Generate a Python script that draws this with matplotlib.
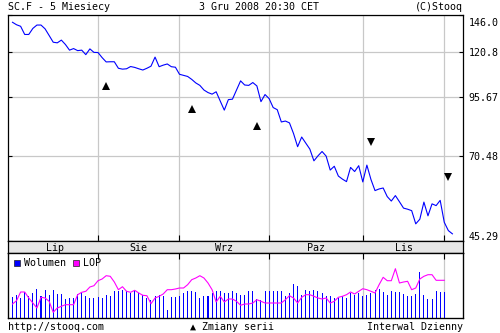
import numpy as np
import matplotlib
matplotlib.use("Agg")
import matplotlib.pyplot as plt
from matplotlib.ticker import FixedLocator, FixedFormatter, NullLocator
from matplotlib.transforms import ScaledTranslation
from matplotlib.patches import Rectangle

# ---- data -------------------------------------------------------------
close = [140.6, 138.8, 137.7, 132.0, 132.0, 136.2, 138.6, 138.6, 135.9, 131.3,
         126.8, 126.4, 128.2, 125.3, 121.7, 122.7, 121.4, 121.7, 118.9, 122.5,
         120.3, 120.2, 117.1, 114.5, 114.6, 114.6, 110.8, 110.3, 110.5, 111.8,
         111.3, 110.5, 109.8, 110.8, 112.0, 117.4, 111.7, 112.6, 113.3, 111.7,
         111.4, 107.4, 106.8, 106.2, 104.6, 102.7, 101.4, 99.0, 97.7, 96.9,
         98.1, 93.5, 89.2, 94.2, 94.4, 99.0, 103.8, 101.6, 101.4, 102.9,
         101.1, 93.2, 96.7, 94.7, 90.4, 89.4, 83.9, 84.3, 83.5, 79.0,
         73.8, 77.6, 75.2, 72.9, 68.6, 70.4, 72.0, 70.3, 65.4, 66.7,
         63.4, 62.4, 61.6, 66.3, 64.9, 66.9, 61.5, 67.1, 62.3, 58.8,
         59.3, 59.6, 57.0, 55.7, 57.3, 55.5, 53.7, 53.4, 53.0, 49.5,
         50.7, 55.4, 51.6, 54.9, 54.4, 55.9, 49.9, 47.8, 47.0]

volume = [21.0, 23.3, 20.0, 26.0, 21.7, 25.0, 29.0, 22.3, 28.0, 23.3,
          27.7, 24.0, 24.0, 19.0, 20.0, 20.0, 24.0, 25.0, 21.7, 20.0,
          20.0, 21.0, 20.0, 23.3, 22.3, 26.7, 26.7, 28.3, 26.7, 25.0,
          26.7, 25.0, 23.3, 20.0, 18.3, 21.7, 23.3, 21.7, 7.7, 20.7,
          20.7, 21.7, 25.0, 26.7, 26.7, 25.7, 20.0, 22.3, 21.7, 25.0,
          27.3, 27.3, 25.0, 25.0, 26.7, 25.0, 23.3, 23.3, 26.7, 27.3,
          19.0, 18.3, 26.7, 26.7, 26.7, 26.7, 26.7, 21.7, 25.0, 34.0,
          31.7, 22.7, 27.7, 26.7, 27.7, 26.7, 25.0, 21.7, 21.7, 20.0,
          20.0, 21.7, 20.0, 25.0, 23.3, 25.0, 21.7, 23.3, 25.0, 28.3,
          29.0, 26.0, 23.3, 27.3, 25.7, 26.0, 24.0, 21.7, 21.7, 24.3,
          46.0, 23.3, 19.0, 19.0, 26.7, 26.0, 25.7]

open_interest = [14.0, 17.3, 26.0, 26.0, 20.0, 15.0, 10.0, 20.7, 20.0, 16.7,
                 5.7, 10.0, 11.7, 13.3, 13.3, 13.3, 23.3, 25.7, 26.7, 31.0,
                 32.3, 37.3, 39.0, 42.3, 41.7, 36.0, 28.3, 31.3, 26.7, 25.7,
                 27.7, 25.0, 22.7, 22.3, 14.3, 20.0, 21.7, 24.0, 28.3, 28.3,
                 29.0, 30.0, 30.0, 33.3, 38.3, 40.0, 42.3, 40.0, 35.0, 28.3,
                 16.0, 21.7, 16.0, 19.0, 19.0, 16.7, 12.7, 14.0, 14.0, 15.0,
                 18.3, 16.7, 15.0, 15.0, 15.0, 15.0, 15.0, 18.3, 22.3, 20.0,
                 15.0, 20.7, 23.3, 23.3, 21.7, 20.0, 19.0, 20.0, 15.0, 16.7,
                 20.7, 21.7, 23.3, 26.0, 24.0, 26.7, 29.3, 28.3, 26.7, 25.0,
                 33.3, 40.7, 37.3, 37.3, 49.3, 35.0, 36.0, 36.7, 28.3, 30.0,
                 39.0, 41.7, 43.3, 43.3, 37.7, 37.7, 37.7]

# first trading day of each month shown (day index), and month names
month_starts = [0, 21, 41, 63, 86, 106]
month_names = ["Lip", "Sie", "Wrz", "Paz", "Lis"]

price_ticks = [45.29, 70.48, 95.67, 120.8, 146.0]
price_tick_labels = ["45.29", "70.48", "95.67", "120.8", "146.0"]

# contract roll markers: (day index, level)
roll_up_days = [23, 44, 60]
roll_up_levels = [101.1, 89.6, 82.0]
roll_down_days = [88, 107]
roll_down_levels = [75.8, 63.1]

# ---- layout helpers -----------------------------------------------------
W, H = 500, 333
fig = plt.figure(figsize=(W / 100, H / 100), dpi=100)
MONO = "DejaVu Sans Mono"
FS = 7.2
GRID = "#c8c8c8"
BLUE = "#0000ff"
MAGENTA = "#ff00ff"


def box(left, top, right, bottom):
    return [left / W, 1 - bottom / H, (right - left) / W, (bottom - top) / H]


def ftext(x, y, s, ha="left", **kw):
    fig.text(x / W, 1 - y / H, s, ha=ha, va="center", family=MONO,
             fontsize=FS, color="black", **kw)


XLIM = (-1.1, 110.6)
days = np.arange(len(close))

# ---- price panel --------------------------------------------------------
ax = fig.add_axes(box(8, 15, 463, 241))
ax.set_yscale("log")
ax.set_ylim(price_ticks[0], price_ticks[-1])
ax.set_xlim(*XLIM)
ax.yaxis.set_major_locator(FixedLocator(price_ticks))
ax.yaxis.set_major_formatter(FixedFormatter(price_tick_labels))
ax.yaxis.set_minor_locator(NullLocator())
ax.set_xticks(month_starts[1:])
ax.set_xticklabels([])
ax.grid(True, color=GRID, lw=0.9)
ax.set_axisbelow(True)
ax.tick_params(axis="y", direction="in", length=3, width=0.8, left=True,
               right=True, labelleft=False, labelright=True, pad=4,
               labelsize=FS, labelfontfamily=MONO)
ax.tick_params(axis="x", direction="in", length=4, width=0.8, top=False)
for sp in ax.spines.values():
    sp.set_linewidth(0.9)
# keep the end labels inside the frame height
labels = ax.get_yticklabels()
labels[0].set_transform(labels[0].get_transform() +
                        ScaledTranslation(0, 5 / 100, fig.dpi_scale_trans))
labels[-1].set_transform(labels[-1].get_transform() +
                         ScaledTranslation(0, -7 / 100, fig.dpi_scale_trans))

ax.plot(days, close, color=BLUE, lw=0.8)
ax.plot(roll_up_days, roll_up_levels, ls="none", marker="^", ms=5.2,
        color="black", mew=0)
ax.plot(roll_down_days, roll_down_levels, ls="none", marker="v", ms=5.2,
        color="black", mew=0)

# ---- month band ---------------------------------------------------------
band = fig.add_axes(box(8, 241, 463, 253), facecolor="#e6e6e6")
band.set_xlim(*XLIM)
band.set_ylim(0, 1)
band.set_xticks([])
band.set_yticks([])
for sp in band.spines.values():
    sp.set_linewidth(0.9)
for k, name in enumerate(month_names):
    mid = (month_starts[k] + month_starts[k + 1]) / 2
    band.text(mid, 0.45, name, ha="center", va="center", family=MONO,
              fontsize=FS)

# ---- volume / open interest panel ---------------------------------------
axv = fig.add_axes(box(8, 253, 463, 318))
axv.set_xlim(*XLIM)
axv.set_ylim(0, 65)
axv.bar(days[:len(volume)], volume, width=0.25, color=BLUE, lw=0,
        antialiased=False)
axv.set_xticks(month_starts[1:])
axv.set_xticklabels([])
axv.set_yticks([])
axv.grid(True, axis="x", color=GRID, lw=0.9)
axv.set_axisbelow(True)
axv.tick_params(axis="x", direction="in", length=4, width=0.8, bottom=False,
                top=True)
for sp in axv.spines.values():
    sp.set_linewidth(0.9)

axl = axv.twinx()
axl.set_ylim(0, 65)
axl.set_yticks([])
axl.plot(days[:len(open_interest)], open_interest, color=MAGENTA, lw=0.8)

# legend swatches
for x0, col, name in [(14, BLUE, "Wolumen"), (73, MAGENTA, "LOP")]:
    fig.patches.append(Rectangle((x0 / W, 1 - 265.5 / H), 5.5 / W, 5.5 / H,
                                 transform=fig.transFigure, facecolor=col,
                                 edgecolor="#202020", lw=0.5))
    ftext(x0 + 10.5, 262.5, name)

# ---- header and footer ---------------------------------------------------
ftext(8, 7, "SC.F - 5 Miesiecy")
ftext(199, 7, "3 Gru 2008 20:30 CET")
ftext(463, 7, "(C)Stooq", ha="right")
ftext(8, 327, "http://stooq.com")
ftext(190, 327, "\u25b2 Zmiany serii")
ftext(463, 327, "Interwal Dzienny", ha="right")

fig.savefig("out.png", dpi=100)
